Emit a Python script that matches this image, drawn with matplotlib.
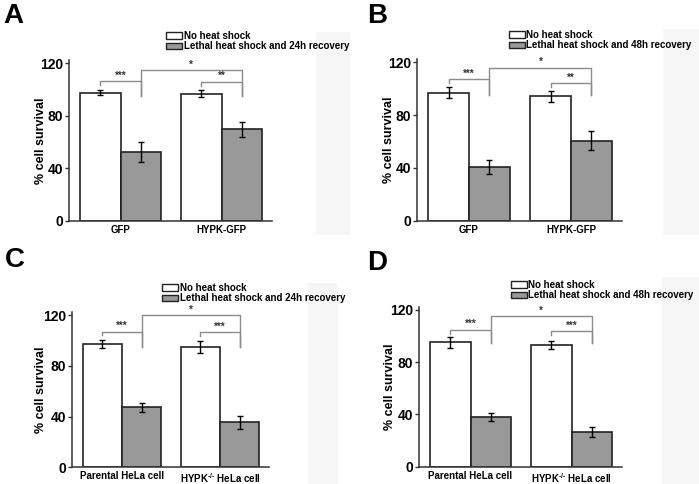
import matplotlib.pyplot as plt
import numpy as np
from matplotlib.patches import Patch, Rectangle

plt.rcParams['font.family'] = ['Liberation Sans', 'DejaVu Sans']
plt.rcParams['font.weight'] = 'bold'
plt.rcParams['mathtext.fontset'] = 'custom'
plt.rcParams['mathtext.rm'] = 'Liberation Sans:bold'
plt.rcParams['mathtext.bf'] = 'Liberation Sans:bold'

W, H = 699, 484

gfp_groups = ['GFP', 'HYPK-GFP']
hela_groups = ['Parental HeLa cell', r'HYPK$^{\text{-/-}}$ HeLa cell']

# % cell survival: no heat shock (ctrl) / lethal heat shock (heat)
a_ctrl = [97.6, 96.9]
a_ctrl_err = [2.0, 2.8]
a_heat = [52.2, 69.7]
a_heat_err = [7.8, 5.8]

b_ctrl = [97.1, 94.3]
b_ctrl_err = [4.2, 4.4]
b_heat = [40.7, 60.7]
b_heat_err = [5.0, 7.3]

c_ctrl = [97.5, 94.8]
c_ctrl_err = [3.1, 4.7]
c_heat = [47.3, 35.4]
c_heat_err = [3.7, 5.4]

d_ctrl = [95.2, 93.2]
d_ctrl_err = [4.2, 3.0]
d_heat = [38.1, 26.8]
d_heat_err = [2.9, 3.7]

# significance labels and bracket heights: (left pair, between groups, right pair)
a_sig = ['***', '*', '**']
a_sig_y = [106.3, 115.0, 106.0]
b_sig = ['***', '*', '**']
b_sig_y = [107.4, 116.0, 104.4]
c_sig = ['***', '*', '***']
c_sig_y = [107.0, 120.0, 106.3]
d_sig = ['***', '*', '***']
d_sig_y = [104.9, 115.4, 103.7]

legend_ctrl = 'No heat shock'
legend_24 = 'Lethal heat shock and 24h recovery'
legend_48 = 'Lethal heat shock and 48h recovery'

GRAY = '#999999'
EDGE = '#222222'

fig = plt.figure(figsize=(W / 100, H / 100), dpi=100)

# faint shaded strips at the right of each panel
for x0, y0, x1, y1 in [(316, 32, 350, 235), (663, 29, 699, 235),
                       (308, 283, 338, 484), (662, 277, 699, 484)]:
    fig.add_artist(Rectangle((x0 / W, 1 - y1 / H), (x1 - x0) / W, (y1 - y0) / H,
                             transform=fig.transFigure, color='#f6f6f6', zorder=0, lw=0))


def panel(letter, letter_xy, left, spacing, bottom, ppu, groups, ctrl, ctrl_err,
          heat, heat_err, sig, sig_y, heat_label, leg_xy, ylab_off):
    xmin, xmax, ytop = -0.51, 1.5, 122.5
    width = (xmax - xmin) * spacing
    height = ytop * ppu
    ax = fig.add_axes([left / W, 1 - bottom / H, width / W, height / H])
    x = np.arange(len(groups))
    bw = 0.4
    ax.bar(x - bw / 2, ctrl, bw, color='white', edgecolor=EDGE, linewidth=1.2, zorder=2)
    ax.bar(x + bw / 2, heat, bw, color=GRAY, edgecolor=EDGE, linewidth=1.2, zorder=2)
    ax.errorbar(x - bw / 2, ctrl, yerr=ctrl_err, fmt='none', ecolor='black',
                elinewidth=1, capsize=2, capthick=1, zorder=3)
    ax.errorbar(x + bw / 2, heat, yerr=heat_err, fmt='none', ecolor='black',
                elinewidth=1, capsize=2, capthick=1, zorder=3)

    # significance brackets
    bc = '#8c8c8c'
    drop = 95
    pairs = [(x[0] - bw / 2, x[0] + bw / 2, True),
             (x[0] + bw / 2, x[1] + bw / 2, False),
             (x[1] - bw / 2, x[1] + bw / 2, True)]
    for (xa, xb, short_left), lab, yy in zip(pairs, sig, sig_y):
        yl = yy - 3 if short_left else drop
        ax.plot([xa, xa, xb, xb], [yl, yy, yy, drop], color=bc, lw=1.0,
                clip_on=False, zorder=1)
        ax.text((xa + xb) / 2, yy + 0.3, lab, ha='center', va='bottom',
                fontsize=7, color='#333333')

    ax.set_xlim(xmin, xmax)
    ax.set_ylim(0, ytop)
    ax.set_yticks([0, 40, 80, 120])
    ax.set_xticks(x)
    ax.set_xticklabels(groups, fontsize=7, fontweight='bold')
    ax.tick_params(axis='x', length=0, pad=3)
    ax.tick_params(axis='y', length=3, width=1, pad=1.2, labelsize=10, color='#333333')
    for lbl in ax.get_yticklabels():
        lbl.set_fontweight('bold')
    for s in ['top', 'right']:
        ax.spines[s].set_visible(False)
    for s in ['left', 'bottom']:
        ax.spines[s].set_linewidth(1.1)
        ax.spines[s].set_color('#333333')
    ax.set_ylabel('% cell survival', fontsize=9, fontweight='bold')
    ax.yaxis.set_label_coords(-ylab_off / width, 0.5)

    handles = [Patch(facecolor='white', edgecolor=EDGE, lw=1),
               Patch(facecolor=GRAY, edgecolor=EDGE, lw=1)]
    fig.legend(handles, [legend_ctrl, heat_label], loc='upper left',
               bbox_to_anchor=(leg_xy[0] / W, 1 - leg_xy[1] / H), frameon=False,
               handlelength=1.65, handleheight=0.7, handletextpad=0.15,
               labelspacing=0.05, borderpad=0, borderaxespad=0,
               prop={'weight': 'bold', 'size': 7})

    fig.text(letter_xy[0] / W, 1 - letter_xy[1] / H, letter, fontsize=20,
             fontweight='bold', ha='left', va='baseline')
    return ax


panel('A', (3, 23), 69, 101, 220.7, 1.311, gfp_groups, a_ctrl, a_ctrl_err,
      a_heat, a_heat_err, a_sig, a_sig_y, legend_24, (166, 31), 22)
panel('B', (367, 23), 417, 102, 220.7, 1.319, gfp_groups, b_ctrl, b_ctrl_err,
      b_heat, b_heat_err, b_sig, b_sig_y, legend_48, (509, 30), 22)
panel('C', (5, 267), 72, 98, 467.3, 1.269, hela_groups, c_ctrl, c_ctrl_err,
      c_heat, c_heat_err, c_sig, c_sig_y, legend_24, (162, 283), 25)
panel('D', (367, 270), 419, 101, 466.7, 1.306, hela_groups, d_ctrl, d_ctrl_err,
      d_heat, d_heat_err, d_sig, d_sig_y, legend_48, (511, 280), 23)

fig.savefig('out.png', dpi=100)
